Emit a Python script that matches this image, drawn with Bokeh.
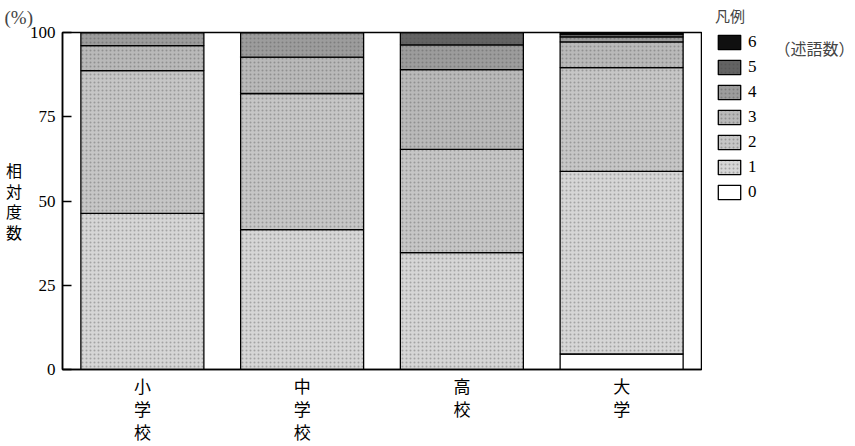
from bokeh.plotting import figure
from bokeh.models import (Range1d, Legend, LegendItem, FixedTicker, ColumnDataSource,
                          Title, Label)
from bokeh.core.properties import value
from bokeh.layouts import row
from bokeh.embed import file_html
from bokeh.resources import INLINE

# ---- data ----
categories = ["小学校", "中学校", "高校", "大学"]
levels = ["0", "1", "2", "3", "4", "5", "6"]
v0 = [0.0, 0.0, 0.0, 4.6]
v1 = [46.3, 41.5, 34.7, 54.2]
v2 = [42.4, 40.4, 30.6, 30.8]
v3 = [7.4, 10.8, 23.7, 7.6]
v4 = [3.9, 7.3, 7.3, 1.5]
v5 = [0.0, 0.0, 3.7, 0.8]
v6 = [0.0, 0.0, 0.0, 0.5]
y_ticks = [0, 25, 50, 75, 100]
y_title = "相対度数"
unit_label = "(%)"
legend_title = "凡例"
legend_note = "（述語数）"

colors = ["#ffffff", "#d6d6d6", "#c6c6c6", "#b9b9b9", "#9c9c9c", "#636363", "#101010"]
hatches = ["blank", "dot", "dot", "dot", "dot", "dot", "blank"]
HATCH = dict(hatch_color="#444444", hatch_alpha=0.35, hatch_scale=4, hatch_weight=1)

xs = [i + 0.5 for i in range(len(categories))]
data = {"x": xs}
for lv, vals in zip(levels, [v0, v1, v2, v3, v4, v5, v6]):
    data[lv] = vals
src = ColumnDataSource(data)

W, H = 855, 446
PW = 702  # main plot width (frame right edge at 701)
p = figure(width=PW, height=H, output_backend="svg", toolbar_location=None,
           x_range=Range1d(0, len(categories)), y_range=Range1d(0, 100),
           min_border_left=62, min_border_right=PW - 701, min_border_top=32,
           min_border_bottom=H - 369)
p.grid.visible = False
p.outline_line_color = "black"
p.outline_line_width = 1.5
p.background_fill_color = "white"
p.border_fill_color = "white"

rs = p.vbar_stack(levels, x="x", width=0.77, source=src, fill_color=colors,
                  line_color="black", line_width=1.3, hatch_pattern=hatches, **HATCH)

# y axis
ya = p.yaxis[0]
ya.ticker = FixedTicker(ticks=y_ticks)
ya.major_tick_in = 9
ya.major_tick_out = 0
ya.minor_tick_line_color = None
ya.major_label_standoff = 7
ya.major_label_text_font = "Liberation Serif"
ya.major_label_text_font_size = "17px"
ya.major_label_text_color = "black"
ya.axis_line_width = 1.5
ya.major_tick_line_width = 1.5
ya.axis_label_text_font = "Noto Sans CJK JP"
ya.axis_label_text_font_size = "16px"
ya.axis_label_text_font_style = "normal"
ya.axis_label_text_color = "black"
ya.axis_label_text_line_height = 0.85
ya.axis_label_standoff = 5
if "axis_label_orientation" in ya.properties():
    ya.axis_label_orientation = "horizontal"
    ya.axis_label = "\n".join(y_title)
else:
    ya.axis_label = y_title

# x axis: category names written vertically
xa = p.xaxis[0]
xa.ticker = FixedTicker(ticks=xs)
xa.major_label_overrides = {x: "\n".join(c) for x, c in zip(xs, categories)}
xa.major_tick_in = 0
xa.major_tick_out = 0
xa.minor_tick_line_color = None
xa.major_label_standoff = 3
xa.major_label_text_font = "Noto Sans CJK JP"
xa.major_label_text_font_size = "17px"
xa.major_label_text_color = "black"
xa.major_label_text_line_height = 0.92
xa.axis_line_width = 1.5

# unit label above the y axis
p.add_layout(Title(text=unit_label, align="left", offset=-58, standoff=9,
                   text_font="Liberation Serif", text_font_size="19px",
                   text_font_style="normal", text_line_height=0.95), "above")

# legend panel (separate canvas to the right, so nothing is clipped)
LW = W - PW
pl = figure(width=LW, height=H, output_backend="svg", toolbar_location=None,
            x_range=Range1d(0, len(categories)), y_range=Range1d(0, 100), min_border=0,
            x_axis_location=None, y_axis_location=None)
pl.grid.visible = False
pl.outline_line_color = None
pl.background_fill_color = "white"
pl.border_fill_color = "white"
for fig in (p, pl):
    if "frame_align" in fig.properties():
        fig.frame_align = False

lrs = pl.vbar_stack(levels, x="x", width=0.77, source=src, fill_color=colors,
                    line_color="black", line_width=1.3, hatch_pattern=hatches, **HATCH)
for r in lrs:
    r.visible = False

items = [LegendItem(label=value(lv), renderers=[r]) for lv, r in zip(levels, lrs)][::-1]
leg = Legend(items=items, location=(715 - PW, H - 202), title=legend_title,
             title_text_font="Noto Sans CJK JP", title_text_font_size="15px",
             title_text_font_style="normal", title_standoff=6,
             label_text_font="Liberation Serif", label_text_font_size="17px",
             glyph_width=28, glyph_height=18, label_height=18, label_standoff=5,
             spacing=5, padding=0, margin=0,
             inactive_fill_alpha=0, label_text_color="black",
             border_line_alpha=0, background_fill_alpha=0)
pl.add_layout(leg, "center")
pl.add_layout(Label(x=774 - PW, y=H - 47, x_units="screen", y_units="screen", text=legend_note,
                    text_font="Noto Sans CJK JP", text_font_size="16px",
                    text_baseline="middle", text_align="left"))

layout = row(p, pl, spacing=0)
open("out.html", "w").write(file_html(layout, INLINE))
